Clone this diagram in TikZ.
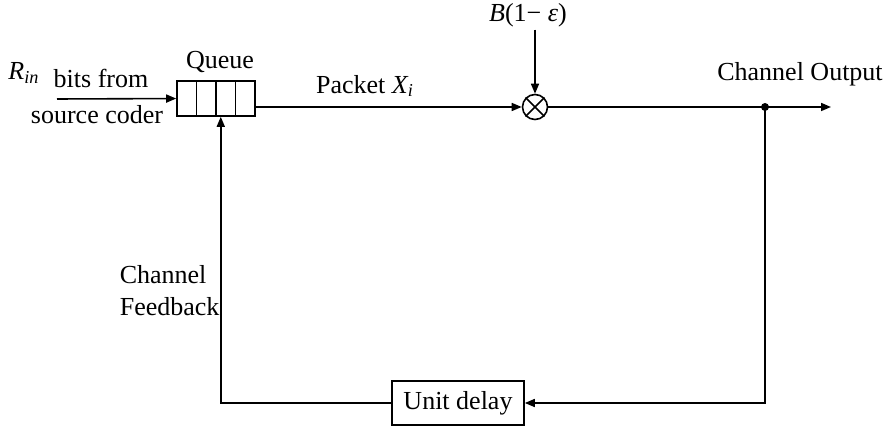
\documentclass[tikz,border=0pt]{standalone}
\usepackage{fontspec}
\setmainfont{Liberation Serif}
\usetikzlibrary{positioning, arrows.meta, calc}

\begin{document}
\begin{tikzpicture}[x=0.5pt, y=-0.5pt, line width=0.8pt,
  every node/.style={font=\fontsize{13}{16}\selectfont, inner sep=1pt},
  cell/.style={draw, minimum width=9.75pt, minimum height=17.5pt, inner sep=0pt},
  blk/.style={draw, minimum width=66pt, minimum height=22pt},
  tip/.style={-{Triangle[length=5pt,width=4pt]}}]
  \useasboundingbox (0,0) rectangle (886,431);
  % queue cells
  \foreach \i in {1,2,3,4}{
    \node[cell] (q\i) at (167.25+\i*19.5, 98.5) {};
  }
  \node (queue) at (220,62) {Queue};
  \node (rin) at (24,73) {\textit{R}\textsubscript{\textit{in}}};
  \node (bits) at (101,78) {bits from};
  \node (src) at (97,115) {source coder};
  \coordinate (in) at (57,99);
  \draw[tip] (in) -- (q1);
  % multiplier
  \node[draw, circle, minimum size=12.5pt, inner sep=0pt] (mult) at (535,107) {};
  \draw (mult.north west) -- (mult.south east) (mult.north east) -- (mult.south west);
  \node (pkt) at (365,86) {Packet \textit{X\textsubscript{i}}};
  \draw[tip] (q4.east |- mult) -- (mult);
  \node (gain) at (528,15) {\textit{B}(1− \textit{ε})};
  \draw[tip] (gain.south -| mult) -- (mult);
  % output and feedback
  \coordinate (split) at (765,107);
  \coordinate (out) at (831,107);
  \draw[tip] (mult) -- (split) -- (out);
  \fill (split) circle (2pt);
  \node (chout) at (800,74) {Channel Output};
  \node[blk] (delay) at (458,403) {Unit delay};
  \draw[tip] (split) |- (delay);
  \draw[tip] (delay) -| ([xshift=-2.5pt]q3.south);
  \node[align=left, anchor=west] (fb) at (117,291) {Channel\\Feedback};
\end{tikzpicture}
\end{document}
